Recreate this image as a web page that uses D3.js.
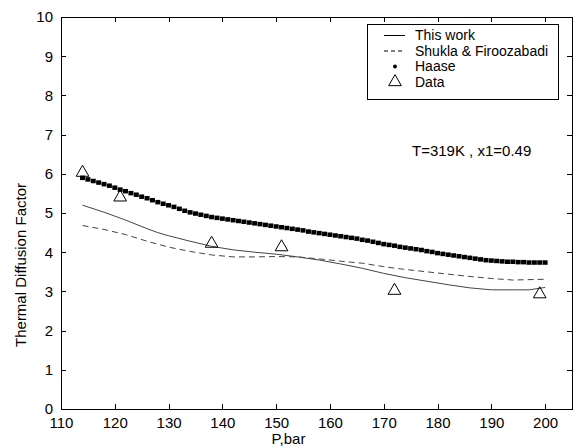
<!DOCTYPE html>
<html>
	<head>
		<meta charset="utf-8">
		<title>Thermal Diffusion Factor</title>
		<style>
			body { margin: 0; background: #fff; }
			text { font-family: "Liberation Sans", Arial, sans-serif; font-size: 14px; fill: #000; }
			.axis path, .axis line { stroke: #000; shape-rendering: crispEdges; }
		</style>
		<script src="https://d3js.org/d3.v7.min.js"></script>
	</head>
	<body>
		<div id="chart"></div>
		<script>
			// data
			var xTicks = [110, 120, 130, 140, 150, 160, 170, 180, 190, 200];
			var yTicks = [0, 1, 2, 3, 4, 5, 6, 7, 8, 9, 10];

			// This work (solid)
			var workP = [114, 118, 122, 126, 128, 130, 134, 138, 142, 146, 150, 154, 158, 162, 166, 170, 174, 178, 182, 186, 190, 194, 197, 200];
			var workA = [5.20, 5.02, 4.82, 4.60, 4.50, 4.42, 4.28, 4.15, 4.06, 4.00, 3.95, 3.88, 3.80, 3.70, 3.59, 3.46, 3.35, 3.26, 3.17, 3.09, 3.04, 3.04, 3.04, 3.10];

			// Shukla & Firoozabadi (dashed)
			var shuklaP = [114, 118, 122, 126, 130, 134, 138, 142, 146, 150, 154, 158, 162, 166, 170, 174, 178, 182, 186, 190, 194, 197, 200];
			var shuklaA = [4.68, 4.58, 4.45, 4.28, 4.13, 4.02, 3.93, 3.88, 3.88, 3.89, 3.88, 3.83, 3.77, 3.72, 3.63, 3.56, 3.50, 3.44, 3.38, 3.33, 3.29, 3.30, 3.31];

			// Haase (dots)
			var haaseP = [114, 115, 116, 117, 118, 119, 120, 121, 122, 123, 124, 125, 126, 127, 128, 129, 130,
				131, 132, 133, 134, 135, 136, 137, 138, 139, 140, 141, 142, 143, 144, 145, 146, 147, 148, 149, 150,
				151, 152, 153, 154, 155, 156, 157, 158, 159, 160, 161, 162, 163, 164, 165, 166, 167, 168, 169, 170,
				171, 172, 173, 174, 175, 176, 177, 178, 179, 180, 181, 182, 183, 184, 185, 186, 187, 188, 189, 190,
				191, 192, 193, 194, 195, 196, 197, 198, 199, 200];
			var haaseA = [5.89, 5.85, 5.81, 5.77, 5.73, 5.69, 5.64, 5.59, 5.55, 5.50, 5.46, 5.41, 5.37, 5.32, 5.27, 5.23, 5.19,
				5.15, 5.10, 5.05, 5.01, 4.98, 4.95, 4.92, 4.89, 4.87, 4.85, 4.83, 4.81, 4.79, 4.77, 4.75, 4.73, 4.71, 4.69, 4.67, 4.65,
				4.63, 4.61, 4.59, 4.57, 4.55, 4.52, 4.50, 4.48, 4.46, 4.44, 4.42, 4.40, 4.38, 4.36, 4.34, 4.31, 4.29, 4.26, 4.23, 4.20,
				4.18, 4.16, 4.13, 4.11, 4.09, 4.07, 4.05, 4.02, 4.00, 3.97, 3.95, 3.93, 3.91, 3.89, 3.87, 3.85, 3.83, 3.81, 3.79, 3.78,
				3.77, 3.76, 3.75, 3.75, 3.74, 3.74, 3.73, 3.73, 3.73, 3.73];

			// experimental data (triangles)
			var dataP = [114, 121, 138, 151, 172, 199];
			var dataA = [6.03, 5.40, 4.22, 4.13, 3.02, 2.93];

			var W = 584, H = 448;
			var margin = {top: 17, right: 12, bottom: 39, left: 61},
			width = W - margin.left - margin.right,
			height = H - margin.top - margin.bottom;

			var svg = d3.select("#chart").append("svg")
			.attr("width", W)
			.attr("height", H)
			.append("g")
			.attr("transform", "translate(" + margin.left + "," + margin.top + ")");

			var x = d3.scaleLinear().domain([110, 205]).range([0, width]);
			var y = d3.scaleLinear().domain([0, 10]).range([height, 0]);

			var tk = 5;

			// box + inward ticks on all four sides
			svg.append("g").attr("class", "axis")
			.attr("transform", "translate(0," + height + ")")
			.call(d3.axisBottom(x).tickValues(xTicks).tickSize(-tk).tickPadding(8).tickSizeOuter(0))
			.selectAll("text").attr("dy", "0.71em");
			svg.append("g").attr("class", "axis")
			.call(d3.axisTop(x).tickValues(xTicks).tickSize(-tk).tickFormat("").tickSizeOuter(0));
			svg.append("g").attr("class", "axis")
			.call(d3.axisLeft(y).tickValues(yTicks).tickSize(-tk).tickPadding(8).tickSizeOuter(0));
			svg.append("g").attr("class", "axis")
			.attr("transform", "translate(" + width + ",0)")
			.call(d3.axisRight(y).tickValues(yTicks).tickSize(-tk).tickFormat("").tickSizeOuter(0));
			svg.selectAll(".axis text").style("font-size", "15px").attr("fill", "#000");
			svg.selectAll(".domain").remove();
			svg.append("rect").attr("width", width).attr("height", height)
			.attr("fill", "none").attr("stroke", "#000").style("shape-rendering", "crispEdges");

			// labels
			svg.append("text")
			.attr("x", width / 2 - 28).attr("y", height + 35)
			.attr("text-anchor", "middle")
			.style("font-size", "15px")
			.text("P,bar");
			svg.append("text")
			.attr("transform", "translate(-35," + (height / 2 + 52) + ") rotate(-90)")
			.attr("text-anchor", "middle")
			.style("font-size", "15px")
			.text("Thermal Diffusion Factor");

			var line = d3.line()
			.x(function(d) { return x(d[0]); })
			.y(function(d) { return y(d[1]); });

			svg.append("path")
			.datum(d3.zip(workP, workA))
			.attr("d", line)
			.attr("fill", "none").attr("stroke", "#444").attr("stroke-width", 1);

			svg.append("path")
			.datum(d3.zip(shuklaP, shuklaA))
			.attr("d", line)
			.attr("fill", "none").attr("stroke", "#444").attr("stroke-width", 1)
			.attr("stroke-dasharray", "6,4");

			svg.append("g").selectAll("rect")
			.data(d3.zip(haaseP, haaseA))
			.enter().append("rect")
			.attr("x", function(d) { return x(d[0]) - 2.5; })
			.attr("y", function(d) { return y(d[1]) - 2.5; })
			.attr("width", 5).attr("height", 4.5)
			.attr("fill", "#000");

			var tri = d3.symbol().type(d3.symbolTriangle).size(70);
			svg.append("g").selectAll("path")
			.data(d3.zip(dataP, dataA))
			.enter().append("path")
			.attr("d", tri)
			.attr("transform", function(d) { return "translate(" + x(d[0]) + "," + y(d[1]) + ")"; })
			.attr("fill", "none").attr("stroke", "#000").attr("stroke-width", 1);

			// annotation
			svg.append("text")
			.attr("x", 351).attr("y", 139)
			.style("font-size", "15px")
			.text("T=319K , x1=0.49");

			// legend
			var legend = svg.append("g").attr("transform", "translate(306,7)");
			legend.append("rect")
			.attr("width", 191).attr("height", 75)
			.attr("fill", "#fff").attr("stroke", "#000").style("shape-rendering", "crispEdges");
			var names = ["This work", "Shukla & Firoozabadi", "Haase", "Data"];
			legend.selectAll("text.lg")
			.data(names)
			.enter().append("text")
			.attr("class", "lg")
			.attr("x", 48)
			.attr("y", function(d, i) { return 16 + i * 15.5; })
			.text(function(d) { return d; });
			legend.append("line").attr("x1", 17).attr("x2", 38).attr("y1", 11.5).attr("y2", 11.5).attr("stroke", "#000");
			legend.append("line").attr("x1", 17).attr("x2", 38).attr("y1", 27).attr("y2", 27).attr("stroke", "#000")
			.attr("stroke-dasharray", "4,3");
			legend.append("circle").attr("cx", 28).attr("cy", 42.5).attr("r", 2).attr("fill", "#000");
			legend.append("path").attr("d", tri).attr("transform", "translate(28,58)")
			.attr("fill", "none").attr("stroke", "#000");
		</script>
	</body>
</html>
